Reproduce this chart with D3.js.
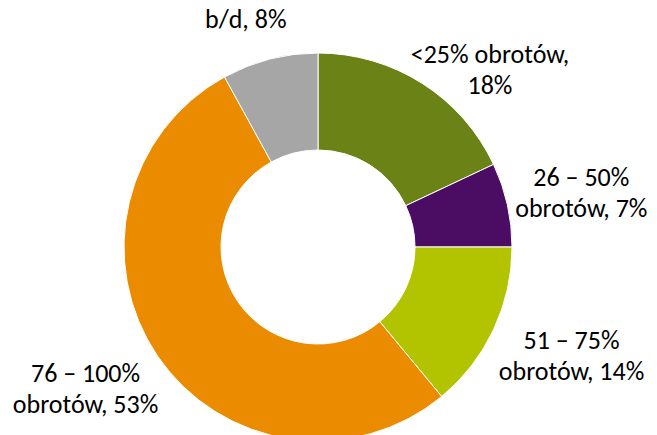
<!DOCTYPE html>
<html>
<head>
<meta charset="utf-8">
<script src="https://cdn.jsdelivr.net/npm/d3@7"></script>
<style>
  body { margin: 0; background: #fff; }
  svg { display: block; }
  text { font-family: Carlito, Calibri, Lato, sans-serif; font-size: 26px; fill: #000; }
</style>
</head>
<body>
<div id="chart"></div>
<script>
// data
var categories = ["<25% obrotów", "26 – 50%", "51 – 75%", "76 – 100%", "b/d"];
var values = [18, 7, 14, 53, 8];
var labelLines = [
  ["<25% obrotów,", "18%"],
  ["26 – 50%", "obrotów, 7%"],
  ["51 – 75%", "obrotów, 14%"],
  ["76 – 100%", "obrotów, 53%"],
  ["b/d, 8%"]
];
var colors = ["#6b8216", "#4b0c64", "#b2c400", "#eb8b00", "#a6a6a6"];

var width = 657, height = 435;
var cx = 318, cy = 247;
var outerR = 194, innerR = 97;
// label nudges from the outer edge midpoint (layout only)
var nudges = [[68, -20], [74, -19], [78, 19], [-72, 26], [-24, -31]];
var lineH = 31;

var svg = d3.select("#chart").append("svg")
    .attr("width", width)
    .attr("height", height);

var g = svg.append("g").attr("transform", "translate(" + cx + "," + cy + ")");

var pie = d3.pie().sort(null).value(function(d){ return d; });
var arcs = pie(values);

var arc = d3.arc().innerRadius(innerR).outerRadius(outerR);
var edgeArc = d3.arc().innerRadius(outerR).outerRadius(outerR);

g.selectAll("path.slice")
    .data(arcs)
  .enter().append("path")
    .attr("class", "slice")
    .attr("d", arc)
    .attr("fill", function(d, i){ return colors[i]; })
    .attr("stroke", "#fff")
    .attr("stroke-width", 1);

var labels = g.selectAll("text.lbl")
    .data(arcs)
  .enter().append("text")
    .attr("class", "lbl")
    .attr("text-anchor", "middle")
    .attr("transform", function(d, i){
        var c = edgeArc.centroid(d);
        return "translate(" + (c[0] + nudges[i][0]) + "," + (c[1] + nudges[i][1]) + ")";
    });

labels.each(function(d, i){
    var t = d3.select(this);
    labelLines[i].forEach(function(line, j){
        t.append("tspan").attr("x", 0).attr("y", j * lineH).text(line);
    });
});
</script>
</body>
</html>
